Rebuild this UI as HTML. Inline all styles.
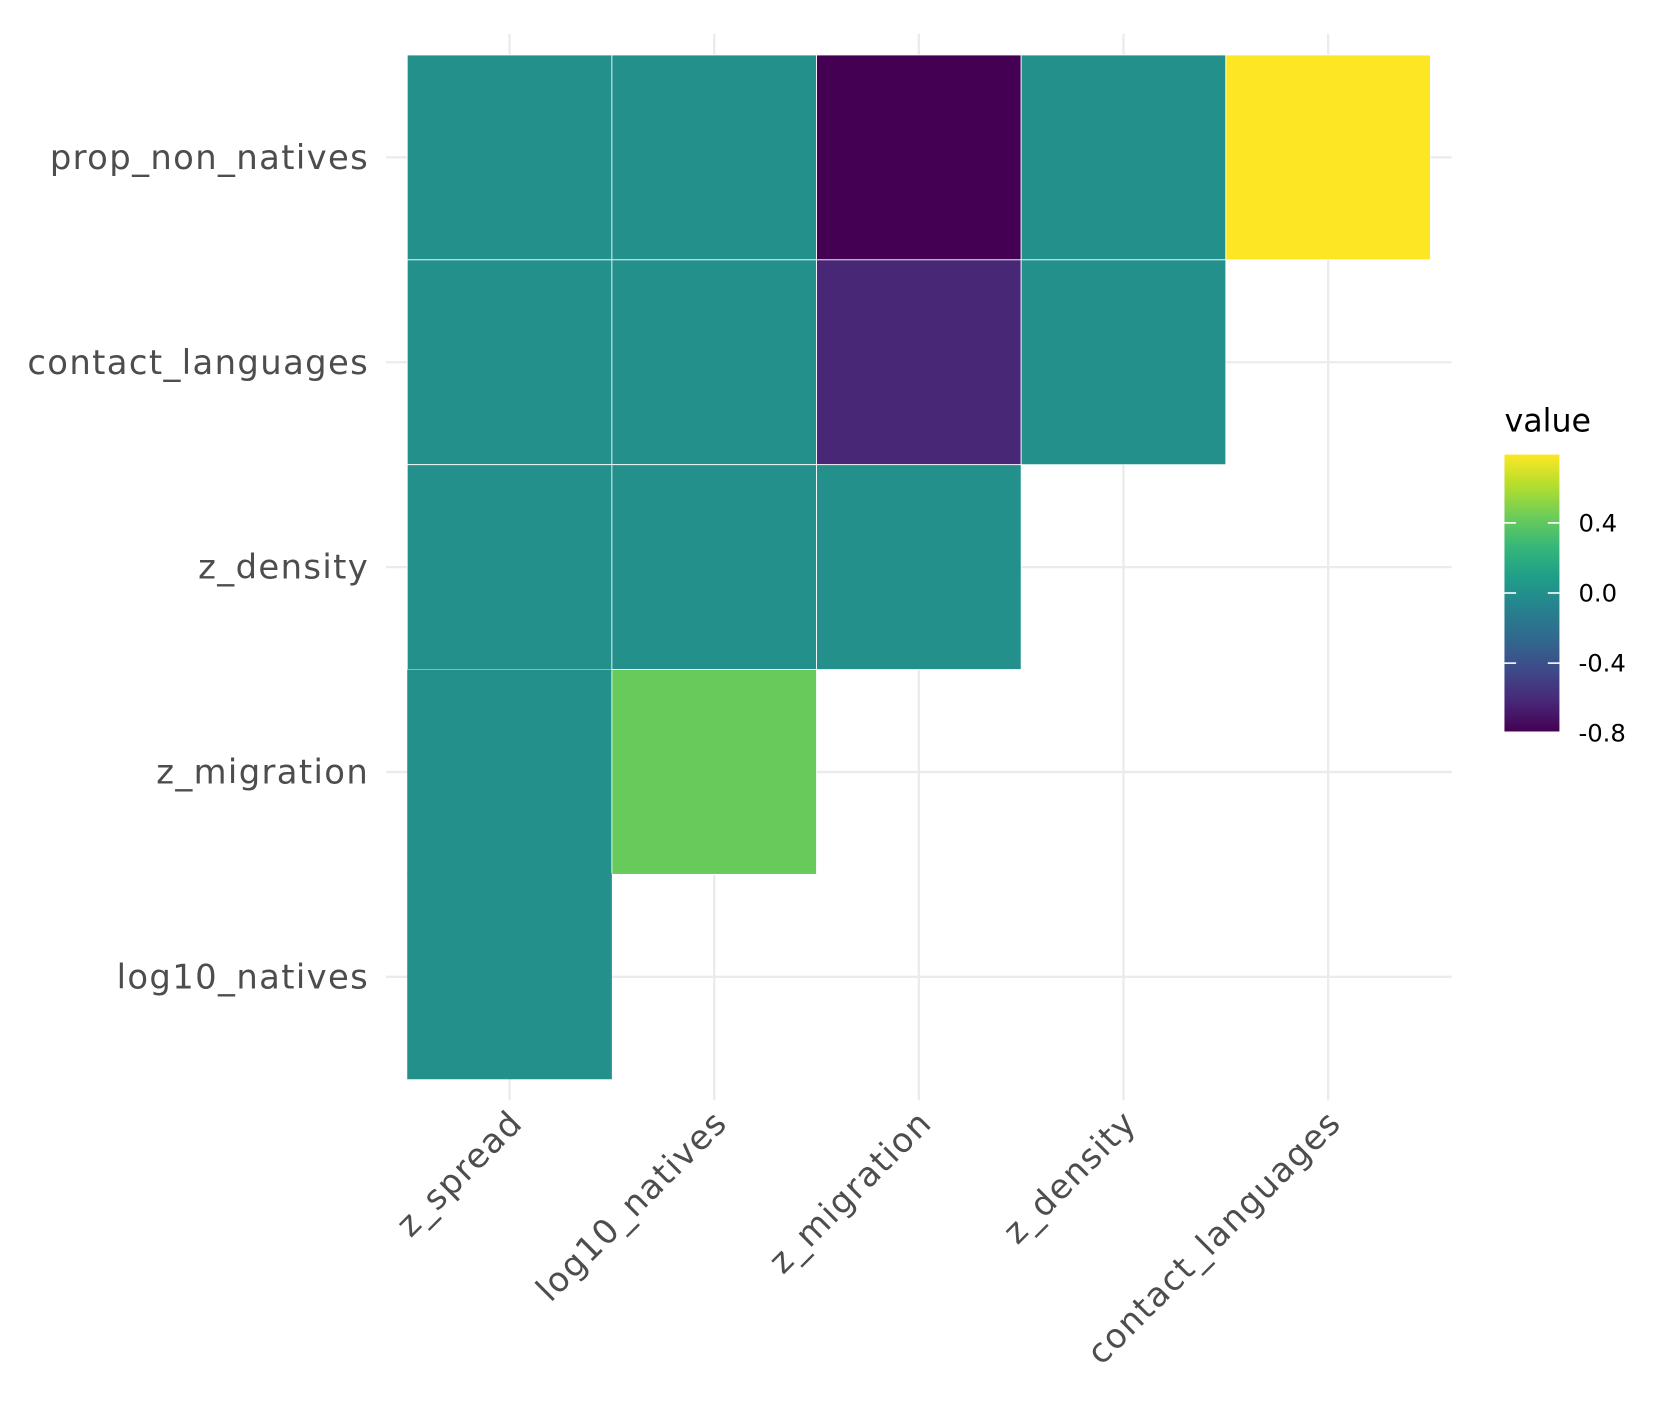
<!DOCTYPE html>
<html><head><meta charset="utf-8"><style>html,body{margin:0;padding:0;background:#fff}svg{display:block}</style></head>
<body>
<svg id="chart" width="1658" height="1408" viewBox="0 0 1568 1332" xmlns="http://www.w3.org/2000/svg" font-family="'DejaVu Sans', 'Liberation Sans', sans-serif"></svg>
<script>
const xCats = ["z_spread","log10_natives","z_migration","z_density","contact_languages"];
const yCats = ["prop_non_natives","contact_languages","z_density","z_migration","log10_natives"];
const row0 = [0.0, 0.0, -0.79, 0.0, 0.79];
const row1 = [0.0, 0.0, -0.62, 0.0];
const row2 = [0.0, 0.0, 0.0];
const row3 = [0.0, 0.42];
const row4 = [0.0];
const legendTicks = [0.4, 0.0, -0.4, -0.8];
const legendTickLabels = ["0.4","0.0","-0.4","-0.8"];
const vmin = -0.79, vmax = 0.79;

const rows = [row0,row1,row2,row3,row4];
const NS="http://www.w3.org/2000/svg";
const svg=document.getElementById('chart');
const x0=385, cw=193.6, y0=52, ch=193.8;
function xScale(i){return x0+i*cw;}
function yScale(j){return y0+j*ch;}
const vir=["#440154","#482878","#3E4A89","#31688E","#26828E","#1F9E89","#35B779","#6DCD59","#B4DE2C","#FDE725"];
function hex(h){return [1,3,5].map(k=>parseInt(h.substr(k,2),16));}
function color(v){let t=(v-vmin)/(vmax-vmin);t=Math.max(0,Math.min(1,t));const p=t*(vir.length-1);const i=Math.min(Math.floor(p),vir.length-2);const f=p-i;const a=hex(vir[i]),b=hex(vir[i+1]);return "rgb("+a.map((c,k)=>Math.round(c+(b[k]-c)*f)).join(",")+")";}
function mk(tag,attrs){const e=document.createElementNS(NS,tag);for(const k in attrs)e.setAttribute(k,attrs[k]);svg.appendChild(e);return e;}
xCats.forEach((c,i)=>{const cx=xScale(i)+cw/2;const l=mk('line',{x1:cx,x2:cx,y1:32,y2:1041,stroke:'#ebebeb','stroke-width':2.2});

});
yCats.forEach((c,j)=>{const cy=yScale(j)+ch/2;const l=mk('line',{x1:365,x2:1373,y1:cy,y2:cy,stroke:'#ebebeb','stroke-width':2.2});

});
rows.forEach((r,j)=>r.forEach((v,i)=>{const last=(i==0&&j>=3);const rc=mk('rect',{x:xScale(i),y:yScale(j)-(last&&j==4?1:0),width:cw,height:ch+(last&&j==4?1:0),fill:color(v),stroke:last?'none':'#ffffff','stroke-width':0.8});

}));
yCats.forEach((c,j)=>{const t=mk('text',{x:349,y:yScale(j)+ch/2+11,'text-anchor':'end','font-size':32,'letter-spacing':1.3,fill:'#4d4d4d'});t.textContent=c;

});
xCats.forEach((c,i)=>{const cx=xScale(i)+cw/2+14, cy=1064;const t=mk('text',{x:cx,y:cy,'text-anchor':'end','font-size':32,'letter-spacing':1.3,fill:'#4d4d4d',transform:'rotate(-45 '+cx+' '+cy+')'});t.textContent=c;

});
const defs=mk('defs',{});const g=document.createElementNS(NS,'linearGradient');g.setAttribute('id','vg');g.setAttribute('x1','0');g.setAttribute('y1','1');g.setAttribute('x2','0');g.setAttribute('y2','0');
vir.forEach((c,k)=>{const s=document.createElementNS(NS,'stop');s.setAttribute('offset',k/(vir.length-1));s.setAttribute('stop-color',c);g.appendChild(s);});defs.appendChild(g);
const lt=mk('text',{x:1423,y:408,'font-size':30,fill:'#000'});lt.textContent='value';


const lbTop=430, lbBot=692;
const lb=mk('rect',{x:1423,y:lbTop,width:52,height:lbBot-lbTop,fill:'url(#vg)'});


function ly(v){return lbBot-(v-vmin)/(vmax-vmin)*(lbBot-lbTop);}
legendTicks.forEach((v,k)=>{const y=ly(v);
mk('line',{x1:1423,x2:1434,y1:y,y2:y,stroke:'#fff','stroke-width':1.5});
mk('line',{x1:1464,x2:1475,y1:y,y2:y,stroke:'#fff','stroke-width':1.5});
const t=mk('text',{x:1493,y:y+8,'font-size':23,fill:'#000'});t.textContent=legendTickLabels[k];

});
</script>
</body></html>
